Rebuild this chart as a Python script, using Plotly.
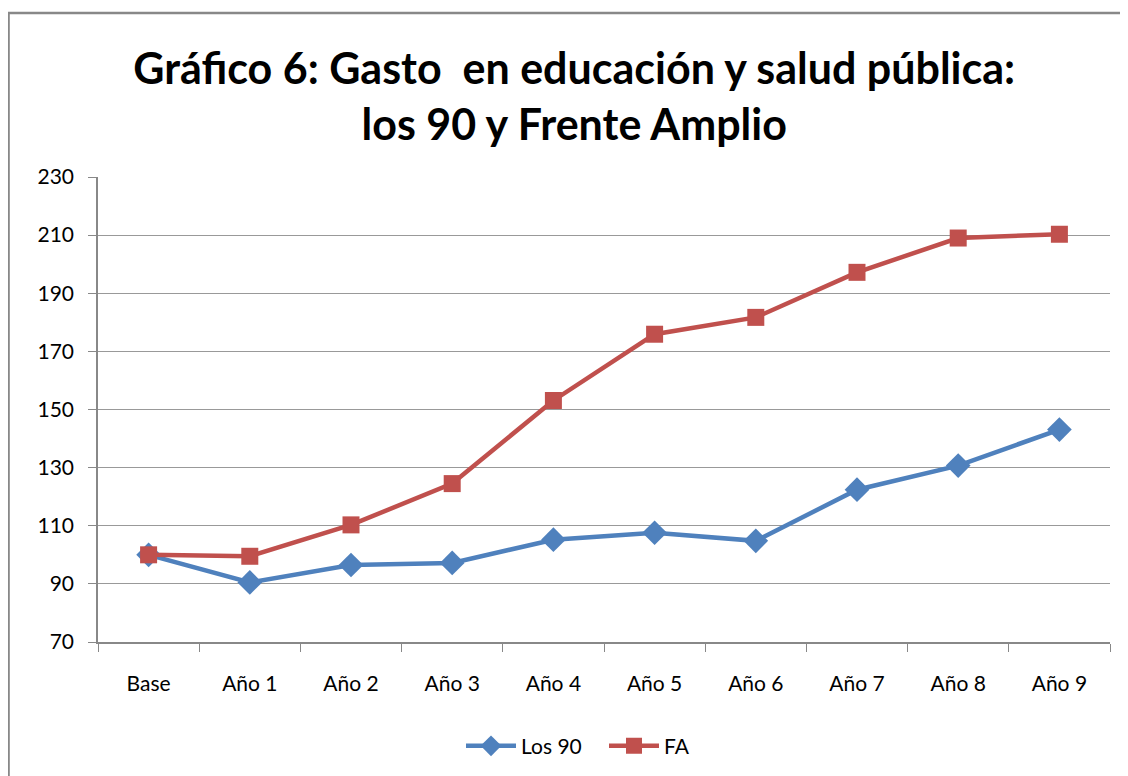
import plotly.graph_objects as go

# categorias del eje x
anios = ['Base', 'Año 1', 'Año 2', 'Año 3', 'Año 4', 'Año 5', 'Año 6', 'Año 7', 'Año 8', 'Año 9']
# series
los_90 = [100, 90.5, 96.5, 97.2, 105.2, 107.6, 104.8, 122.4, 130.7, 143.1]
fa = [100, 99.5, 110.3, 124.5, 153.1, 175.9, 181.7, 197.2, 209, 210.3]

fig = go.Figure()
fig.add_trace(go.Scatter(x=anios, y=los_90, name='Los 90', mode='lines+markers',
                         line=dict(color='#4F81BD', width=4.5),
                         marker=dict(symbol='diamond', size=19, color='#4F81BD')))
fig.add_trace(go.Scatter(x=anios, y=fa, name='FA', mode='lines+markers',
                         line=dict(color='#C0504D', width=4.5),
                         marker=dict(symbol='square', size=17, color='#C0504D')))

fig.update_layout(
    width=1128, height=776,
    margin=dict(l=90, r=26, t=169, b=142),
    paper_bgcolor='white', plot_bgcolor='white',
    font=dict(family='Lato', size=21, color='black'),
    title=dict(text='<b>Gráfico 6: Gasto  en educación y salud pública:<br>los 90 y Frente Amplio</b>',
               x=0.502, xanchor='center', y=0.902, yanchor='middle',
               font=dict(family='Lato', size=43, color='black')),
    showlegend=True,
    legend=dict(orientation='h', x=0.5, xanchor='center', y=-0.224, yanchor='middle',
                font=dict(size=21), itemwidth=50, entrywidth=78),
)
fig.update_xaxes(showline=True, linecolor='#888888', linewidth=1.5,
                 ticks='outside', tickson='boundaries', ticklen=8, tickcolor='#888888',
                 showgrid=False, range=[-0.5, 9.5], ticklabelstandoff=22)
fig.update_yaxes(range=[70, 230], tick0=70, dtick=20, showline=True, linecolor='#888888', linewidth=1.5,
                 ticks='outside', ticklen=8, tickcolor='#888888', ticklabelstandoff=10,
                 showgrid=True, gridcolor='#999999', gridwidth=1.2, zeroline=False)

# marco exterior del grafico
fig.add_shape(type='rect', xref='paper', yref='paper', x0=-0.0884, y0=-0.5, x1=1.1, y1=1.3527,
              line=dict(color='#888888', width=2.5), fillcolor='rgba(0,0,0,0)')

fig.write_html('out.html')
